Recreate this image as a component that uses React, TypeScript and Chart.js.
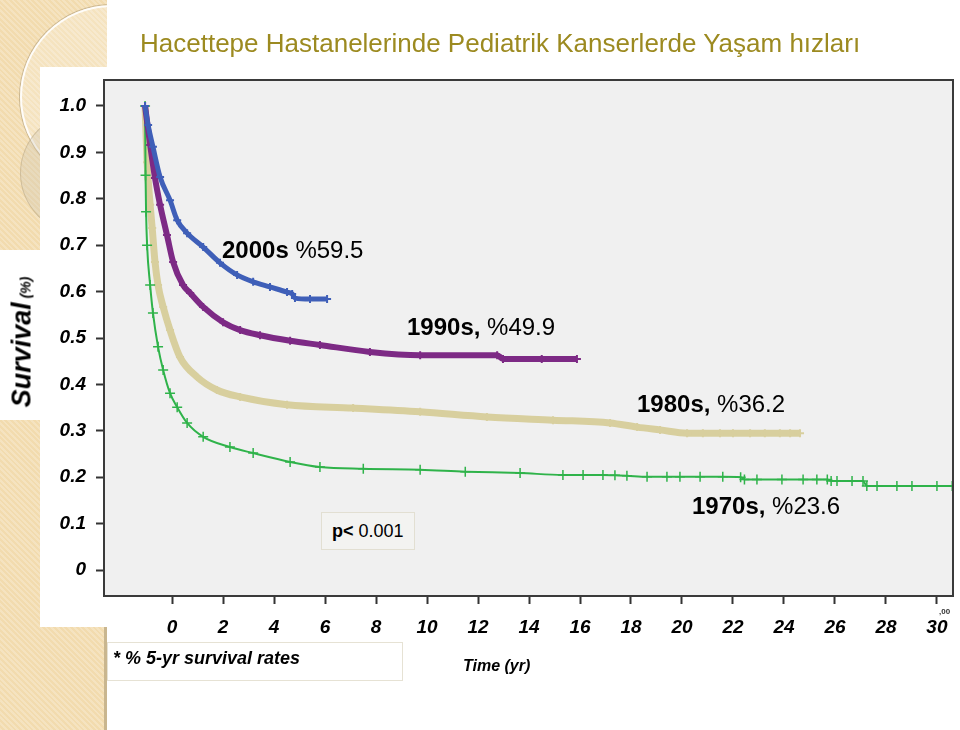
import React, { useEffect, useRef } from "react";
import { Chart, registerables } from "chart.js";

Chart.register(...registerables);

// ---- axis ticks ----
const xTickValues = [0, 2, 4, 6, 8, 10, 12, 14, 16, 18, 20, 22, 24, 26, 28, 30];
const xTickLabels = ["0", "2", "4", "6", "8", "10", "12", "14", "16", "18", "20", "22", "24", "26", "28", "30"];
const yTickValues = [0, 0.1, 0.2, 0.3, 0.4, 0.5, 0.6, 0.7, 0.8, 0.9, 1.0];
const yTickLabels = ["0", "0.1", "0.2", "0.3", "0.4", "0.5", "0.6", "0.7", "0.8", "0.9", "1.0"];

// ---- series (time on the picture's axis, survival proportion) ----
const time2000s = [-1.06, -0.94, -0.75, -0.47, -0.08, 0.2, 0.59, 1.22, 1.88, 2.55, 3.18, 3.84, 4.51, 4.71, 4.82, 5.41, 6.08];
const surv2000s = [1.0, 0.959, 0.912, 0.847, 0.797, 0.754, 0.726, 0.696, 0.662, 0.636, 0.621, 0.61, 0.599, 0.595, 0.586, 0.584, 0.584];

const time1990s = [-1.06, -0.86, -0.67, -0.47, -0.2, 0.04, 0.43, 0.71, 1.22, 2.0, 2.67, 3.45, 4.63, 5.8, 7.76, 9.73, 12.75, 12.98, 14.5, 15.88];
const surv1990s = [1.0, 0.916, 0.845, 0.787, 0.722, 0.664, 0.614, 0.597, 0.567, 0.534, 0.517, 0.506, 0.494, 0.485, 0.47, 0.463, 0.463, 0.455, 0.455, 0.455];

const time1980s = [-1.06, -0.98, -0.86, -0.78, -0.67, -0.55, -0.35, -0.08, 0.31, 0.98, 1.76, 2.67, 4.51, 7.1, 9.73, 12.35, 14.94, 17.18, 18.24, 19.14, 20.2, 20.82, 21.49, 22.0, 22.67, 23.25, 23.84, 24.24, 24.63];
const surv1980s = [1.0, 0.879, 0.787, 0.737, 0.664, 0.614, 0.567, 0.517, 0.459, 0.416, 0.388, 0.373, 0.356, 0.349, 0.341, 0.33, 0.323, 0.317, 0.308, 0.302, 0.295, 0.295, 0.295, 0.295, 0.295, 0.295, 0.295, 0.295, 0.295];

const time1970s = [-1.06, -1.04, -1.02, -0.98, -0.86, -0.75, -0.55, -0.35, -0.08, 0.2, 0.59, 1.22, 2.27, 3.18, 4.63, 5.8, 7.5, 9.73, 11.5, 13.65, 15.33, 16.12, 16.9, 17.37, 17.84, 18.63, 19.41, 19.92, 20.71, 21.6, 22.3, 22.45, 22.94, 23.92, 24.75, 25.29, 25.7, 25.85, 26.08, 26.67, 27.1, 27.25, 27.65, 28.43, 29.02, 30.0, 30.6];
const surv1970s = [1.0, 0.851, 0.772, 0.7, 0.614, 0.554, 0.481, 0.431, 0.381, 0.351, 0.317, 0.287, 0.265, 0.252, 0.233, 0.222, 0.218, 0.216, 0.212, 0.209, 0.205, 0.205, 0.205, 0.204, 0.203, 0.201, 0.201, 0.201, 0.201, 0.201, 0.2, 0.195, 0.195, 0.195, 0.195, 0.195, 0.195, 0.192, 0.192, 0.192, 0.192, 0.181, 0.181, 0.181, 0.181, 0.181, 0.181];

const FONT = '"Liberation Sans", Arial, Helvetica, sans-serif';

const toPoints = (t: number[], s: number[]) => t.map((x, i) => ({ x, y: s[i] }));

const plotFrame = {
  id: "plotFrame",
  beforeDraw(chart: any) {
    const { ctx, chartArea: a } = chart;
    ctx.save();
    ctx.fillStyle = "#f0f0f0";
    ctx.fillRect(a.left, a.top, a.right - a.left, a.bottom - a.top);
    ctx.restore();
  },
  afterDraw(chart: any) {
    const { ctx, chartArea: a } = chart;
    ctx.save();
    ctx.strokeStyle = "#3a3a3a";
    ctx.lineWidth = 2;
    ctx.strokeRect(a.left, a.top, a.right - a.left, a.bottom - a.top);
    ctx.restore();
  },
};

function KMChart() {
  const ref = useRef<HTMLCanvasElement | null>(null);
  useEffect(() => {
    if (!ref.current) return;
    const mk = (label: string, t: number[], s: number[], color: string, bw: number, pr: number, pbw: number) => ({
      label,
      data: toPoints(t, s),
      borderColor: color,
      backgroundColor: color,
      borderWidth: bw,
      pointStyle: "cross",
      pointRadius: pr,
      pointBorderWidth: pbw,
      pointBorderColor: color,
      cubicInterpolationMode: "monotone",
      fill: false,
    });
    const chart = new Chart(ref.current, {
      type: "line",
      data: {
        datasets: [
          mk("2000s", time2000s, surv2000s, "#3f5fb8", 5, 4, 2),
          mk("1990s", time1990s, surv1990s, "#7d2a85", 6, 4, 2),
          mk("1970s", time1970s, surv1970s, "#2fb34a", 2, 5, 1.5),
          mk("1980s", time1980s, surv1980s, "#d8cf9e", 7, 4, 2),
        ] as any,
      },
      options: {
        responsive: false,
        animation: false,
        layout: { padding: { left: 0, right: 7, top: 80, bottom: 84 } },
        plugins: { legend: { display: false }, tooltip: { enabled: false } },
        scales: {
          x: {
            type: "linear",
            min: -2.67,
            max: 30.63,
            afterBuildTicks: (axis: any) => {
              axis.ticks = xTickValues.map((v) => ({ value: v }));
            },
            afterFit: (axis: any) => {
              axis.height = 50;
            },
            border: { display: false },
            grid: { drawOnChartArea: false, drawTicks: true, tickLength: 8, tickWidth: 2, color: "#333" },
            ticks: {
              autoSkip: false,
              maxRotation: 0,
              padding: 12,
              color: "#000",
              font: { family: FONT, size: 19, weight: "bold", style: "italic" },
              callback: (_v: any, i: number) => xTickLabels[i],
            },
          },
          y: {
            type: "linear",
            min: -0.056,
            max: 1.056,
            afterBuildTicks: (axis: any) => {
              axis.ticks = yTickValues.map((v) => ({ value: v }));
            },
            afterFit: (axis: any) => {
              axis.width = 104;
            },
            border: { display: false },
            grid: { drawOnChartArea: false, drawTicks: true, tickLength: 8, tickWidth: 2, color: "#333" },
            ticks: {
              autoSkip: false,
              padding: 10,
              color: "#000",
              font: { family: FONT, size: 19, weight: "bold", style: "italic" },
              callback: (_v: any, i: number) => yTickLabels[i],
            },
          },
        },
      } as any,
      plugins: [plotFrame],
    });
    return () => chart.destroy();
  }, []);
  return (
    <canvas
      ref={ref}
      width={960}
      height={730}
      style={{ position: "absolute", left: 0, top: 0, width: 960, height: 730, zIndex: 1 }}
    />
  );
}

const abs = (s: React.CSSProperties): React.CSSProperties => ({ position: "absolute", ...s });

function Label({ x, cy, bold, rest, size = 24 }: { x: number; cy: number; bold: string; rest: string; size?: number }) {
  return (
    <div
      style={abs({
        left: x,
        top: cy,
        transform: "translateY(-50%)",
        fontFamily: FONT,
        fontSize: size,
        lineHeight: 1,
        color: "#000",
        whiteSpace: "nowrap",
        zIndex: 2,
      })}
    >
      <span style={{ fontWeight: "bold" }}>{bold}</span>
      <span>{rest}</span>
    </div>
  );
}

export default function App() {
  useEffect(() => {
    document.body.style.margin = "0";
  }, []);
  const beige = "#f2dbae";
  return (
    <div style={abs({ left: 0, top: 0, width: 960, height: 730, background: "#fff", overflow: "hidden" })}>
      {/* decorative left strip */}
      <div
        style={abs({
          left: 0,
          top: 0,
          width: 107,
          height: 730,
          background: beige,
          backgroundImage:
            "repeating-linear-gradient(45deg, rgba(255,255,255,0.22) 0 2px, rgba(255,255,255,0) 2px 4px)",
          overflow: "hidden",
          zIndex: 0,
        })}
      >
        <div
          style={abs({
            left: 20,
            top: 5,
            width: 180,
            height: 180,
            borderRadius: "50%",
            border: "2px solid rgba(255,255,255,0.9)",
            boxShadow: "0 0 0 1px rgba(150,130,95,0.45)",
            background: "rgba(255,255,255,0.22)",
          })}
        />
        <div
          style={abs({
            left: 20,
            top: 112,
            width: 120,
            height: 120,
            borderRadius: "50%",
            border: "1px solid rgba(160,140,100,0.35)",
            background: "rgba(210,200,180,0.35)",
          })}
        />
        <div style={abs({ left: 104, top: 627, width: 3, height: 103, background: "#c9b68f" })} />
      </div>
      {/* white panels */}
      <div style={abs({ left: 40, top: 67, width: 67, height: 560, background: "#fff", zIndex: 0 })} />
      <div style={abs({ left: 0, top: 250, width: 40, height: 170, background: "#fff", zIndex: 0 })} />

      {/* title */}
      <div
        style={abs({
          left: 140,
          top: 43,
          transform: "translateY(-50%)",
          fontFamily: FONT,
          fontSize: 26,
          lineHeight: 1,
          color: "#9c8a20",
          whiteSpace: "nowrap",
          zIndex: 2,
        })}
      >
        Hacettepe Hastanelerinde Pediatrik Kanserlerde Yaşam hızları
      </div>

      <KMChart />

      {/* y-axis title */}
      <div
        style={abs({
          left: 22,
          top: 342,
          transform: "translate(-50%,-50%) rotate(-90deg)",
          fontFamily: FONT,
          fontWeight: "bold",
          fontStyle: "italic",
          whiteSpace: "nowrap",
          lineHeight: 1,
          color: "#000",
          zIndex: 2,
        })}
      >
        <span style={{ fontSize: 27 }}>Survival</span>
        <span style={{ fontSize: 14 }}> (%)</span>
      </div>

      {/* curve annotations */}
      <Label x={222} cy={250} bold="2000s" rest=" %59.5" />
      <Label x={407} cy={327} bold="1990s," rest=" %49.9" />
      <Label x={637} cy={404} bold="1980s," rest=" %36.2" />
      <Label x={692} cy={506} bold="1970s," rest=" %23.6" />

      {/* p-value box */}
      <div
        style={abs({
          left: 321,
          top: 512,
          width: 94,
          height: 38,
          boxSizing: "border-box",
          background: "#f3f3f1",
          border: "1px solid #e2dfd2",
          zIndex: 2,
        })}
      />
      <Label x={332} cy={531} bold="p<" rest=" 0.001" size={18} />

      {/* footnote box */}
      <div
        style={abs({
          left: 107,
          top: 642,
          width: 296,
          height: 39,
          boxSizing: "border-box",
          background: "#fff",
          border: "1px solid #e6e2d4",
          zIndex: 2,
        })}
      />
      <div
        style={abs({
          left: 113,
          top: 658,
          transform: "translateY(-50%)",
          fontFamily: FONT,
          fontSize: 18,
          fontWeight: "bold",
          fontStyle: "italic",
          lineHeight: 1,
          whiteSpace: "nowrap",
          color: "#000",
          zIndex: 3,
        })}
      >
        * % 5-yr survival rates
      </div>

      {/* x-axis title */}
      <div
        style={abs({
          left: 463,
          top: 666,
          transform: "translateY(-50%)",
          fontFamily: FONT,
          fontSize: 16,
          fontWeight: "bold",
          fontStyle: "italic",
          lineHeight: 1,
          whiteSpace: "nowrap",
          color: "#000",
          zIndex: 2,
        })}
      >
        Time (yr)
      </div>

      {/* leftover axis mark */}
      <div
        style={abs({
          left: 939,
          top: 612,
          transform: "translateY(-50%)",
          fontFamily: FONT,
          fontSize: 8,
          fontWeight: "bold",
          lineHeight: 1,
          whiteSpace: "nowrap",
          color: "#333",
          zIndex: 2,
        })}
      >
        ,00
      </div>
    </div>
  );
}
